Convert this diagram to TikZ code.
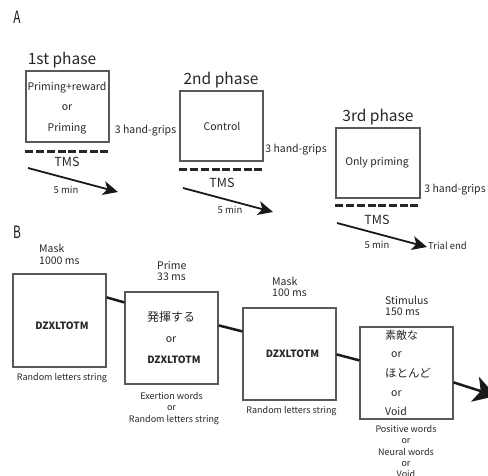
\documentclass[tikz,border=0pt]{standalone}
\usepackage{fontspec}
\setmainfont{Noto Sans CJK JP}
\usetikzlibrary{arrows.meta}
\begin{document}
\begin{tikzpicture}[x=1pt,y=-1pt,
  txt/.style={inner sep=0pt, text=black!85},
  fs/.style={font=\fontsize{#1}{#1}\selectfont},
  big/.style={txt, fs=15.5},
  mid/.style={txt, fs=10.5},
  sm/.style={txt, fs=9},
  panel/.style={inner sep=0pt, text=black!90, font=\fontsize{17}{17}\selectfont, xscale=0.7},
  box/.style={draw=black!65, line width=1.2pt, inner sep=0pt},
  abox/.style={box, minimum width=83pt, minimum height=70pt},
  bbox/.style={box, minimum width=93pt, minimum height=92pt},
  tms/.style={draw=black!85, line width=3pt, dash pattern=on 8pt off 2.7pt},
  arr/.style={draw=black!90, line width=1.8pt, -{Stealth[length=15pt,width=14pt,inset=4pt]}},
  link/.style={draw=black!90, line width=2.5pt},
  bigarr/.style={draw=black!90, line width=2.5pt, -{Stealth[length=22pt,width=26pt,inset=6pt]}}]
\useasboundingbox (0,0) rectangle (488,476);

% ---------- Panel A ----------
\node[panel, anchor=base] (lA) at (17,24) {A};

\node[big, anchor=base] (t1) at (62,65) {1st phase};
\node[abox, minimum height=71pt] (a1) at (67.5,106.5) {};
\node[mid, anchor=base] (a1l1) at (67,91) {Priming+reward};
\node[mid, anchor=base] (a1l2) at (67,111) {or};
\node[mid, anchor=base] (a1l3) at (67,132) {Priming};
\draw[tms] ([yshift=-9pt]a1.south west) -- ([yshift=-9pt]a1.south east);
\node[txt, fs=12.5, anchor=base] (tms1) at (67,167) {TMS};
\coordinate (a1s) at (28,168);
\coordinate (a1e) at (118,192);
\draw[arr] (a1s) -- (a1e);
\node[txt, fs=9.5, anchor=base] (m1) at (66,194) {5 min};
\node[mid, anchor=base] (hg1) at (145.5,134) {3 hand-grips};

\node[big, anchor=base] (t2) at (221,85) {2nd phase};
\node[abox] (a2) at (221.5,126) {};
\node[mid, anchor=base] (a2l) at (222,131) {Control};
\draw[tms] ([yshift=-8pt]a2.south west) -- ([yshift=-8pt]a2.south east);
\node[txt, fs=12.5, anchor=base] (tms2) at (222,188) {TMS};
\coordinate (a2s) at (183,188);
\coordinate (a2e) at (273,212);
\draw[arr] (a2s) -- (a2e);
\node[txt, fs=9.5, anchor=base] (m2) at (230,214) {5 min};
\node[mid, anchor=base] (hg2) at (296,153) {3 hand-grips};

\node[big, anchor=base] (t3) at (378,122) {3rd phase};
\node[abox, minimum width=84pt] (a3) at (378,163) {};
\node[mid, anchor=base] (a3l) at (377,166) {Only priming};
\draw[tms] ([yshift=-7pt]a3.south west) -- ([yshift=-7pt]a3.south east);
\node[txt, fs=12.5, anchor=base] (tms3) at (377,225) {TMS};
\coordinate (a3s) at (337,223);
\coordinate (a3e) at (427,247);
\draw[arr] (a3s) -- (a3e);
\node[txt, fs=9.5, anchor=base] (m3) at (377,249) {5 min};
\node[mid, anchor=base] (hg3) at (455,193) {3 hand-grips};
\node[txt, fs=9.5, anchor=base west] (te) at (428,250) {Trial end};

% ---------- Panel B ----------
\node[panel, anchor=base] (lB) at (17,239) {B};

\node[mid, anchor=base west] (bm1a) at (39,253) {Mask};
\node[mid, anchor=base west] (bm1b) at (39,265) {1000 ms};
\node[bbox, minimum height=93pt] (b1) at (59.5,320.5) {};
\node[txt, fs=11, font=\bfseries, anchor=base] (b1t) at (62,329) {DZXLTOTM};
\node[sm, anchor=base] (b1c) at (62,380) {Random letters string};

\node[mid, anchor=base west] (bp1) at (157,270) {Prime};
\node[mid, anchor=base west] (bp2) at (157,281) {33 ms};
\node[bbox] (b2) at (171.5,338) {};
\node[txt, fs=12] (b2j) at (171,316.5) {発揮する};
\node[mid, anchor=base] (b2o) at (171,342) {or};
\node[txt, fs=11, font=\bfseries, anchor=base] (b2t) at (174,363) {DZXLTOTM};
\node[sm, anchor=base] (b2c1) at (171.5,399) {Exertion words};
\node[sm, anchor=base] (b2c2) at (171.5,410) {or};
\node[sm, anchor=base] (b2c3) at (174,422) {Random letters string};

\node[mid, anchor=base west] (bm3a) at (272,286) {Mask};
\node[mid, anchor=base west] (bm3b) at (272,297) {100 ms};
\node[bbox] (b3) at (289.5,354) {};
\node[txt, fs=11, font=\bfseries, anchor=base] (b3t) at (292.5,357) {DZXLTOTM};
\node[sm, anchor=base] (b3c) at (291.5,413) {Random letters string};

\node[mid, anchor=base west] (bs1) at (385,305) {Stimulus};
\node[mid, anchor=base west] (bs2) at (385,316) {150 ms};
\node[bbox] (b4) at (406.5,373) {};
\node[txt, fs=11, anchor=west] (b4j1) at (385,335) {素敵な};
\node[mid, anchor=base west] (b4o1) at (391,357) {or};
\node[txt, fs=11.5, anchor=west] (b4j2) at (385,373.5) {ほとんど};
\node[mid, anchor=base west] (b4o2) at (391,396) {or};
\node[mid, anchor=base west] (b4v) at (385,415) {Void};
\node[sm, anchor=base] (b4c1) at (406,432) {Positive words};
\node[sm, anchor=base] (b4c2) at (406,443) {or};
\node[sm, anchor=base] (b4c3) at (406,455) {Neural words};
\node[sm, anchor=base] (b4c4) at (406,466) {or};
\node[sm, anchor=base] (b4c5) at (406,477) {Void};

\draw[link] ([yshift=-24pt]b1.north east) -- ([yshift=-11pt]b2.north west);
\draw[link] ([yshift=-34pt]b2.north east) -- ([yshift=-24pt]b3.north west);
\draw[link] ([yshift=-47pt]b3.north east) -- ([yshift=-34pt]b4.north west);
\coordinate (bend) at (496,396);
\draw[bigarr] ([yshift=-56pt]b4.north east) -- (bend);
\end{tikzpicture}
\end{document}
